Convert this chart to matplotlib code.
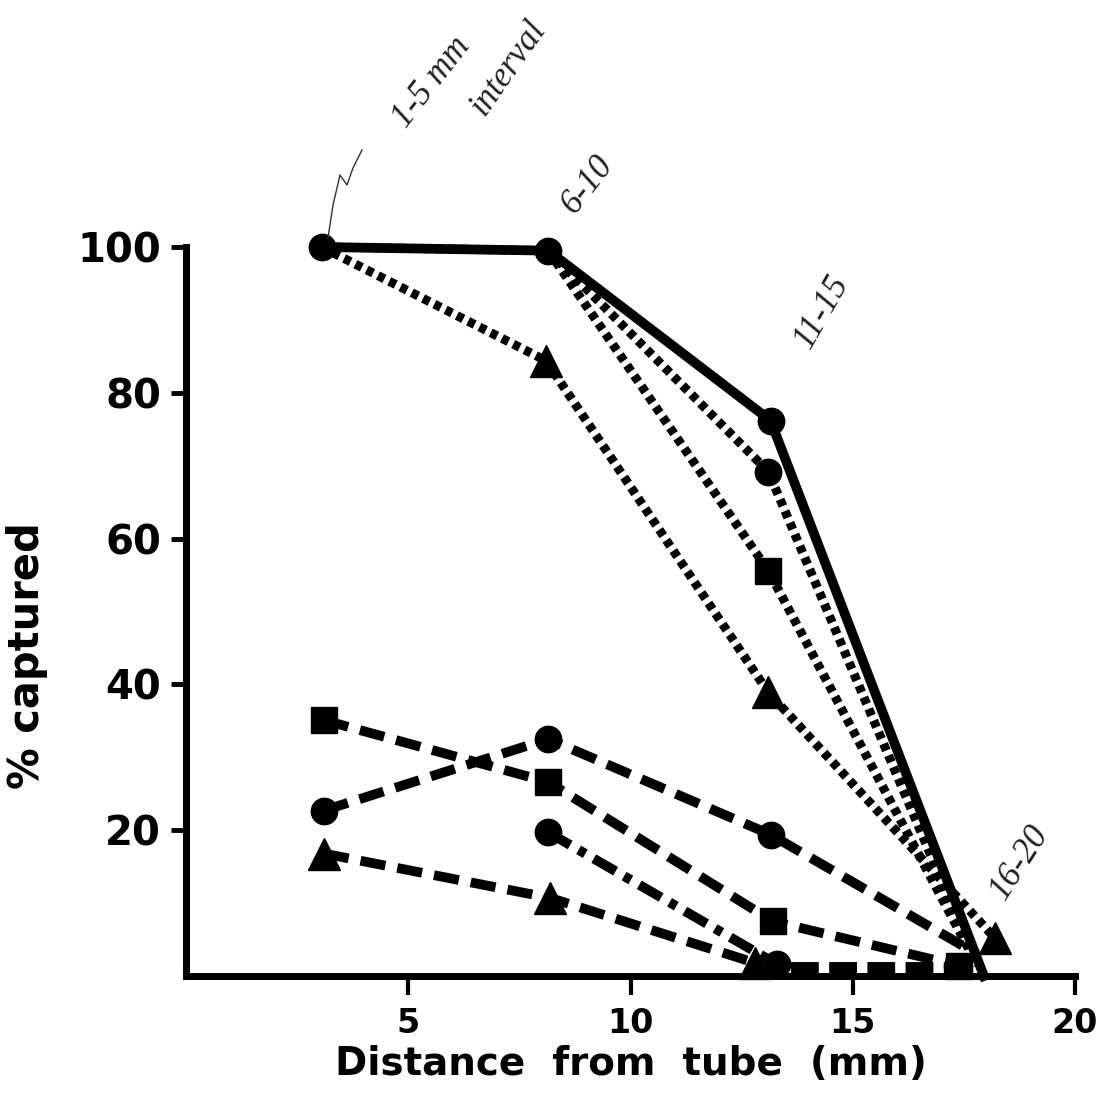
import numpy as np
import matplotlib.pyplot as plt

# percent captured vs distance from the tube, one line per series
solid_circle_x = [3.05, 8.15, 13.15, 17.95]
solid_circle_y = [100, 99.5, 76.2, 0]

dot_circle_x = [3.05, 8.15, 13.1, 17.8]
dot_circle_y = [100, 99.5, 69.2, 1.5]

dot_square_x = [8.15, 13.1, 17.8]
dot_square_y = [99.5, 55.6, 1.5]

dot_tri_x = [3.05, 8.1, 13.1, 18.2]
dot_tri_y = [100, 84.4, 38.9, 5.2]

dash_square_x = [3.1, 8.15, 13.2, 17.4]
dash_square_y = [35.1, 26.6, 7.5, 1.4]

dash_circle_x = [3.1, 8.15, 13.15, 17.8]
dash_circle_y = [22.7, 32.5, 19.4, 3.0]

dashdot_circle_x = [8.15, 13.3]
dashdot_circle_y = [19.7, 1.6]

dash_tri_x = [3.1, 8.2, 12.8]
dash_tri_y = [16.8, 10.7, 1.8]

bottom_x = [13.6, 17.4]
bottom_y = [1.0, 1.0]

xticks = [5, 10, 15, 20]
yticks = [20, 40, 60, 80, 100]

W, H = 1110, 1100
fig = plt.figure(figsize=(W / 100, H / 100), dpi=100)
ax = fig.add_axes([186 / W, 1 - 976 / H, (1075 - 186) / W, (976 - 247) / H])

k = 'black'
DOT = (0.8, 0.6)
DASH = (2.6, 1.25)

# dotted group
ax.plot(dot_tri_x, dot_tri_y, color=k, lw=6.5, dashes=DOT, marker='^', ms=23,
        markevery=[1, 2, 3], clip_on=False, zorder=3)
ax.plot(dot_square_x, dot_square_y, color=k, lw=6.5, dashes=DOT, marker='s', ms=19,
        markevery=[1], clip_on=False, zorder=3)
ax.plot(dot_circle_x, dot_circle_y, color=k, lw=6.5, dashes=DOT, marker='o', ms=19,
        markevery=[2], clip_on=False, zorder=3)
ax.plot(solid_circle_x, solid_circle_y, color=k, lw=7, marker='o', ms=19,
        markevery=[0, 1, 2], clip_on=False, zorder=4)

# dashed group
ax.plot(dash_square_x, dash_square_y, color=k, lw=7, dashes=DASH, marker='s', ms=19,
        clip_on=False, zorder=3)
ax.plot(dash_circle_x, dash_circle_y, color=k, lw=7, dashes=DASH, marker='o', ms=19,
        markevery=[0, 1, 2], clip_on=False, zorder=3)
ax.plot(dashdot_circle_x, dashdot_circle_y, color=k, lw=7,
        dashes=(2.6, 1.0, 0.8, 1.0), marker='o', ms=19, clip_on=False, zorder=3)
ax.plot(dash_tri_x, dash_tri_y, color=k, lw=7, dashes=DASH, marker='^', ms=23,
        clip_on=False, zorder=3)
ax.plot(bottom_x, bottom_y, color=k, lw=10, dashes=(2.0, 0.75), clip_on=False, zorder=3)

ax.set_xlim(0, 20)
ax.set_ylim(0, 100)
ax.set_xticks(xticks)
ax.set_yticks(yticks)
ax.set_xticklabels([str(v) for v in xticks], fontsize=24, fontweight='bold')
ax.set_yticklabels([str(v) for v in yticks], fontsize=29, fontweight='bold')
ax.tick_params(axis='x', length=14, width=3, pad=8)
ax.tick_params(axis='y', length=11, width=3.5, pad=7)
for s in ['top', 'right']:
    ax.spines[s].set_visible(False)
for s in ['left', 'bottom']:
    ax.spines[s].set_linewidth(5)

ax.set_xlabel('Distance  from  tube  (mm)', fontsize=28, fontweight='bold', labelpad=4)
ax.set_ylabel('% captured', fontsize=30, fontweight='bold')
ax.yaxis.set_label_coords(-0.155, 0.44)

# handwritten notes
hand = dict(family='Liberation Serif', style='italic', fontsize=25, color='#222222')
fig.text(432 / W, 1 - 82 / H, '1-5 mm', rotation=52, ha='center', va='center', **hand)
fig.text(508 / W, 1 - 68 / H, 'interval', rotation=55, ha='center', va='center', **hand)
fig.text(588 / W, 1 - 185 / H, '6-10', rotation=52, ha='center', va='center', **hand)
fig.text(822 / W, 1 - 312 / H, '11-15', rotation=60, ha='center', va='center', **hand)
fig.text(1020 / W, 1 - 862 / H, '16-20', rotation=57, ha='center', va='center', **hand)

# squiggle from the first point up to the note
sx = np.array([328, 333, 340, 347, 353, 362]) / W
sy = 1 - np.array([238, 205, 175, 185, 168, 150]) / H
fig.add_artist(plt.Line2D(sx, sy, color='#333333', lw=1))

fig.savefig('out.png', dpi=100)
